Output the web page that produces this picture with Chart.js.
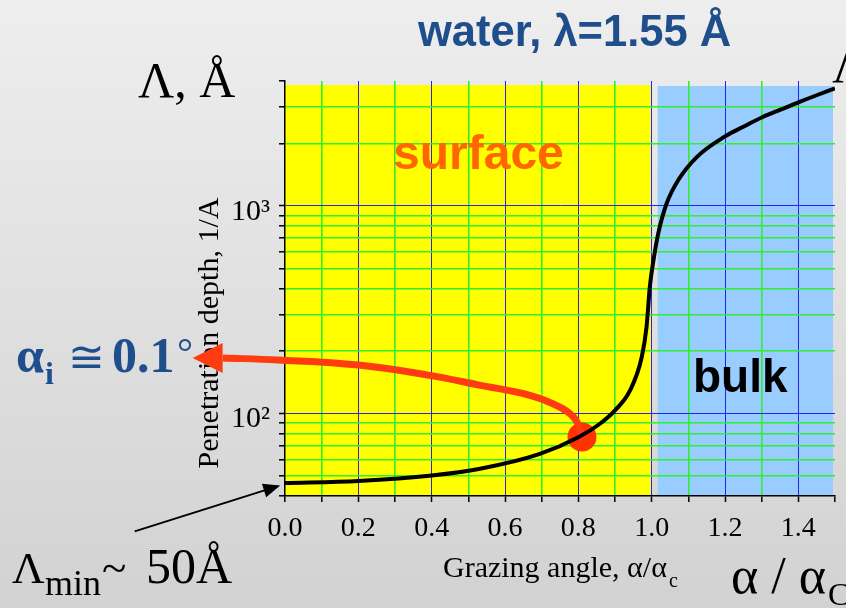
<!DOCTYPE html>
<html>
<head>
<meta charset="utf-8">
<script src="https://cdn.jsdelivr.net/npm/chart.js@4.4.1/dist/chart.umd.min.js"></script>
<style>
  html, body { margin: 0; padding: 0; }
  body { width: 846px; height: 608px; overflow: hidden; background: linear-gradient(#eeeeee, #d2d2d2); }
  canvas { display: block; }
</style>
</head>
<body>
<canvas id="chart" width="846" height="608"></canvas>
<script>
'use strict';

// penetration depth curve
const angles = [0, 0.2, 0.4, 0.532, 0.695, 0.8, 0.859, 0.9, 0.941, 0.973, 0.986, 0.995, 1.005, 1.018, 1.041, 1.073, 1.123, 1.2, 1.25, 1.303, 1.35, 1.4, 1.45, 1.5];
const depths = [46.2, 47.3, 50.2, 54.1, 63.8, 76.8, 89.2, 103.4, 129, 187, 261, 408, 548, 738, 1030, 1336, 1720, 2163, 2408, 2683, 2902, 3155, 3415, 3683];

const xTicks = [0, 0.1, 0.2, 0.3, 0.4, 0.5, 0.6, 0.7, 0.8, 0.9, 1.0, 1.1, 1.2, 1.3, 1.4, 1.5];
const xTickLabels = ['0.0', '', '0.2', '', '0.4', '', '0.6', '', '0.8', '', '1.0', '', '1.2', '', '1.4', ''];
const yTicks = [40, 50, 60, 70, 80, 90, 100, 200, 300, 400, 500, 600, 700, 800, 900, 1000, 2000, 3000, 4000];
const yTickLabels = { 100: '10\u00b2', 1000: '10\u00b3' };

// red marker and the curved arrow leaving it (data coordinates)
const markerAngle = [0.81];
const markerDepth = [77];
const arrowAngles = [0.81, 0.795, 0.755, 0.67, 0.53, 0.39, 0.2, -0.02, -0.17];
const arrowDepths = [77, 92, 106, 122, 137, 153, 171, 181, 185];
const arrowTip = { x: -0.252, y: 185 };

// black arrow pointing at the minimum
const minArrowStart = { x: -0.41, y: 27 };
const minArrowTip = { x: -0.013, y: 45 };

const GREEN = '#2ef02e';
const BLUE = '#2525f0';
const SERIF = '"Liberation Serif", "Times New Roman", serif';
const SANS = '"Liberation Sans", Arial, sans-serif';
const NAVY = '#1f4e8c';

function toPoints(xs, ys) {
  return xs.map((x, i) => ({ x: x, y: ys[i] }));
}

function xGridColor(ctx) {
  const k = Math.round(ctx.tick.value * 10);
  if (k === 0 || k === 15) return 'rgba(0,0,0,0)';
  return k % 2 === 0 ? BLUE : GREEN;
}

function yGridColor(ctx) {
  const v = ctx.tick.value;
  if (v === 40 || v === 4000) return 'rgba(0,0,0,0)';
  return (v === 100 || v === 1000) ? BLUE : GREEN;
}

function gridWidth(ctx) {
  const c = ctx.scale.axis === 'x' ? xGridColor(ctx) : yGridColor(ctx);
  return c === BLUE ? 1 : 1.6;
}

function drawArrowHead(ctx, tx, ty, fx, fy, len, half, color) {
  const a = Math.atan2(ty - fy, tx - fx);
  ctx.save();
  ctx.fillStyle = color;
  ctx.beginPath();
  ctx.moveTo(tx, ty);
  ctx.lineTo(tx - len * Math.cos(a) + half * Math.sin(a), ty - len * Math.sin(a) - half * Math.cos(a));
  ctx.lineTo(tx - len * Math.cos(a) - half * Math.sin(a), ty - len * Math.sin(a) + half * Math.cos(a));
  ctx.closePath();
  ctx.fill();
  ctx.restore();
}

function text(ctx, s, x, y, font, color) {
  ctx.font = font;
  ctx.fillStyle = color;
  ctx.textAlign = 'left';
  ctx.textBaseline = 'alphabetic';
  ctx.fillText(s, x, y);
}

const regionsPlugin = {
  id: 'regions',
  beforeDraw(chart) {
    const ctx = chart.ctx;
    const area = chart.chartArea;
    const xs = chart.scales.x;
    const edge = xs.getPixelForValue(1.0);
    ctx.save();
    ctx.fillStyle = '#ffff00';
    ctx.fillRect(area.left, area.top + 4, edge - area.left - 1, area.bottom - area.top - 4);
    ctx.fillStyle = '#99ccff';
    ctx.fillRect(edge + 6, area.top + 5, area.right - 2 - edge - 6, area.bottom - area.top - 5);
    ctx.restore();
  }
};

const labelsPlugin = {
  id: 'labels',
  beforeDatasetsDraw(chart) {
    const ctx = chart.ctx;
    ctx.save();
    text(ctx, 'water, \u03bb=1.55 \u00c5', 418, 46, 'bold 43.5px ' + SANS, NAVY);
    text(ctx, '\u039b, \u00c5', 138, 97, '50px ' + SERIF, '#000');
    text(ctx, '\u039b', 832, 82, '50px ' + SERIF, '#000');
    text(ctx, 'surface', 393, 169, 'bold 48px ' + SANS, '#ff6600');
    text(ctx, 'bulk', 693, 392, 'bold 46px ' + SANS, '#000');

    // left annotation
    text(ctx, '\u03b1', 16, 372, 'bold 50px ' + SERIF, NAVY);
    text(ctx, 'i', 45, 384, 'bold 32px ' + SERIF, NAVY);
    text(ctx, '\u2245', 68, 372, '44px ' + SERIF, NAVY);
    text(ctx, '0.1', 112, 372, 'bold 50px ' + SERIF, NAVY);
    text(ctx, '\u00b0', 177, 366, '40px ' + SERIF, NAVY);

    text(ctx, '\u039b', 12, 583, '45px ' + SERIF, '#000');
    text(ctx, 'min', 45, 595, '36px ' + SERIF, '#000');
    text(ctx, '~', 102, 583, '45px ' + SERIF, '#000');
    text(ctx, '50\u00c5', 146, 583, '50px ' + SERIF, '#000');

    text(ctx, '\u03b1 / \u03b1', 731, 593, '52px ' + SERIF, '#000');
    text(ctx, 'C', 828, 605, '32px ' + SERIF, '#000');

    // axis titles
    text(ctx, 'Grazing angle, \u03b1/\u03b1', 443, 577, '30px ' + SERIF, '#000');
    text(ctx, 'c', 669, 587, '20px ' + SERIF, '#000');

    ctx.translate(218, 333);
    ctx.rotate(-Math.PI / 2);
    ctx.font = '30px ' + SERIF;
    ctx.fillStyle = '#000';
    ctx.textAlign = 'center';
    ctx.textBaseline = 'alphabetic';
    ctx.fillText('Penetration depth, 1/A', 0, 0);
    ctx.restore();
  },
  afterDatasetsDraw(chart) {
    const ctx = chart.ctx;
    const xs = chart.scales.x;
    const ys = chart.scales.y;
    const n = arrowAngles.length;
    drawArrowHead(ctx,
      xs.getPixelForValue(arrowTip.x), ys.getPixelForValue(arrowTip.y),
      xs.getPixelForValue(arrowAngles[n - 1]), ys.getPixelForValue(arrowDepths[n - 1]),
      30, 15, '#ff3c10');

    const sx = xs.getPixelForValue(minArrowStart.x);
    const sy = ys.getPixelForValue(minArrowStart.y);
    const tx = xs.getPixelForValue(minArrowTip.x);
    const ty = ys.getPixelForValue(minArrowTip.y);
    const a = Math.atan2(ty - sy, tx - sx);
    ctx.save();
    ctx.strokeStyle = '#000';
    ctx.lineWidth = 2;
    ctx.beginPath();
    ctx.moveTo(sx, sy);
    ctx.lineTo(tx - 14 * Math.cos(a), ty - 14 * Math.sin(a));
    ctx.stroke();
    ctx.restore();
    drawArrowHead(ctx, tx, ty, sx, sy, 17, 7, '#000');
  }
};

new Chart(document.getElementById('chart'), {
  type: 'line',
  data: {
    datasets: [
      {
        data: toPoints(angles, depths),
        borderColor: '#000',
        borderWidth: 4,
        pointRadius: 0,
        cubicInterpolationMode: 'monotone',
      },
      {
        data: toPoints(arrowAngles, arrowDepths),
        borderColor: '#ff3c10',
        borderWidth: 7,
        pointRadius: 0,
        tension: 0.4,
        clip: false,
      },
      {
        data: toPoints(markerAngle, markerDepth),
        pointRadius: 14.5,
        pointBackgroundColor: '#ff3300',
        pointBorderWidth: 0,
        showLine: false,
      },
    ],
  },
  options: {
    responsive: false,
    animation: false,
    devicePixelRatio: 1,
    layout: { autoPadding: false, padding: { top: 81, right: 11, left: 0, bottom: 0 } },
    plugins: { legend: { display: false }, tooltip: { enabled: false } },
    scales: {
      x: {
        type: 'linear',
        min: 0,
        max: 1.5,
        afterBuildTicks: (scale) => { scale.ticks = xTicks.map((v) => ({ value: v })); },
        afterFit: (scale) => { scale.height = 112; },
        border: { color: '#000', width: 1.5 },
        grid: { color: xGridColor, lineWidth: gridWidth, tickColor: '#000', tickLength: 6, tickWidth: 1.5 },
        ticks: {
          autoSkip: false,
          maxRotation: 0,
          padding: 10,
          color: '#000',
          font: { family: SERIF, size: 28 },
          callback: (value, index) => xTickLabels[index],
        },
      },
      y: {
        type: 'logarithmic',
        min: 40,
        max: 4000,
        afterBuildTicks: (scale) => { scale.ticks = yTicks.map((v) => ({ value: v })); },
        afterFit: (scale) => { scale.width = 285; },
        border: { color: '#000', width: 1.5 },
        grid: { color: yGridColor, lineWidth: gridWidth, tickColor: '#000', tickLength: 6, tickWidth: 1.5 },
        ticks: {
          autoSkip: false,
          padding: 9,
          labelOffset: 6,
          color: '#000',
          font: { family: SERIF, size: 30 },
          callback: (value) => yTickLabels[value] || '',
        },
      },
    },
  },
  plugins: [regionsPlugin, labelsPlugin],
});
</script>
</body>
</html>
